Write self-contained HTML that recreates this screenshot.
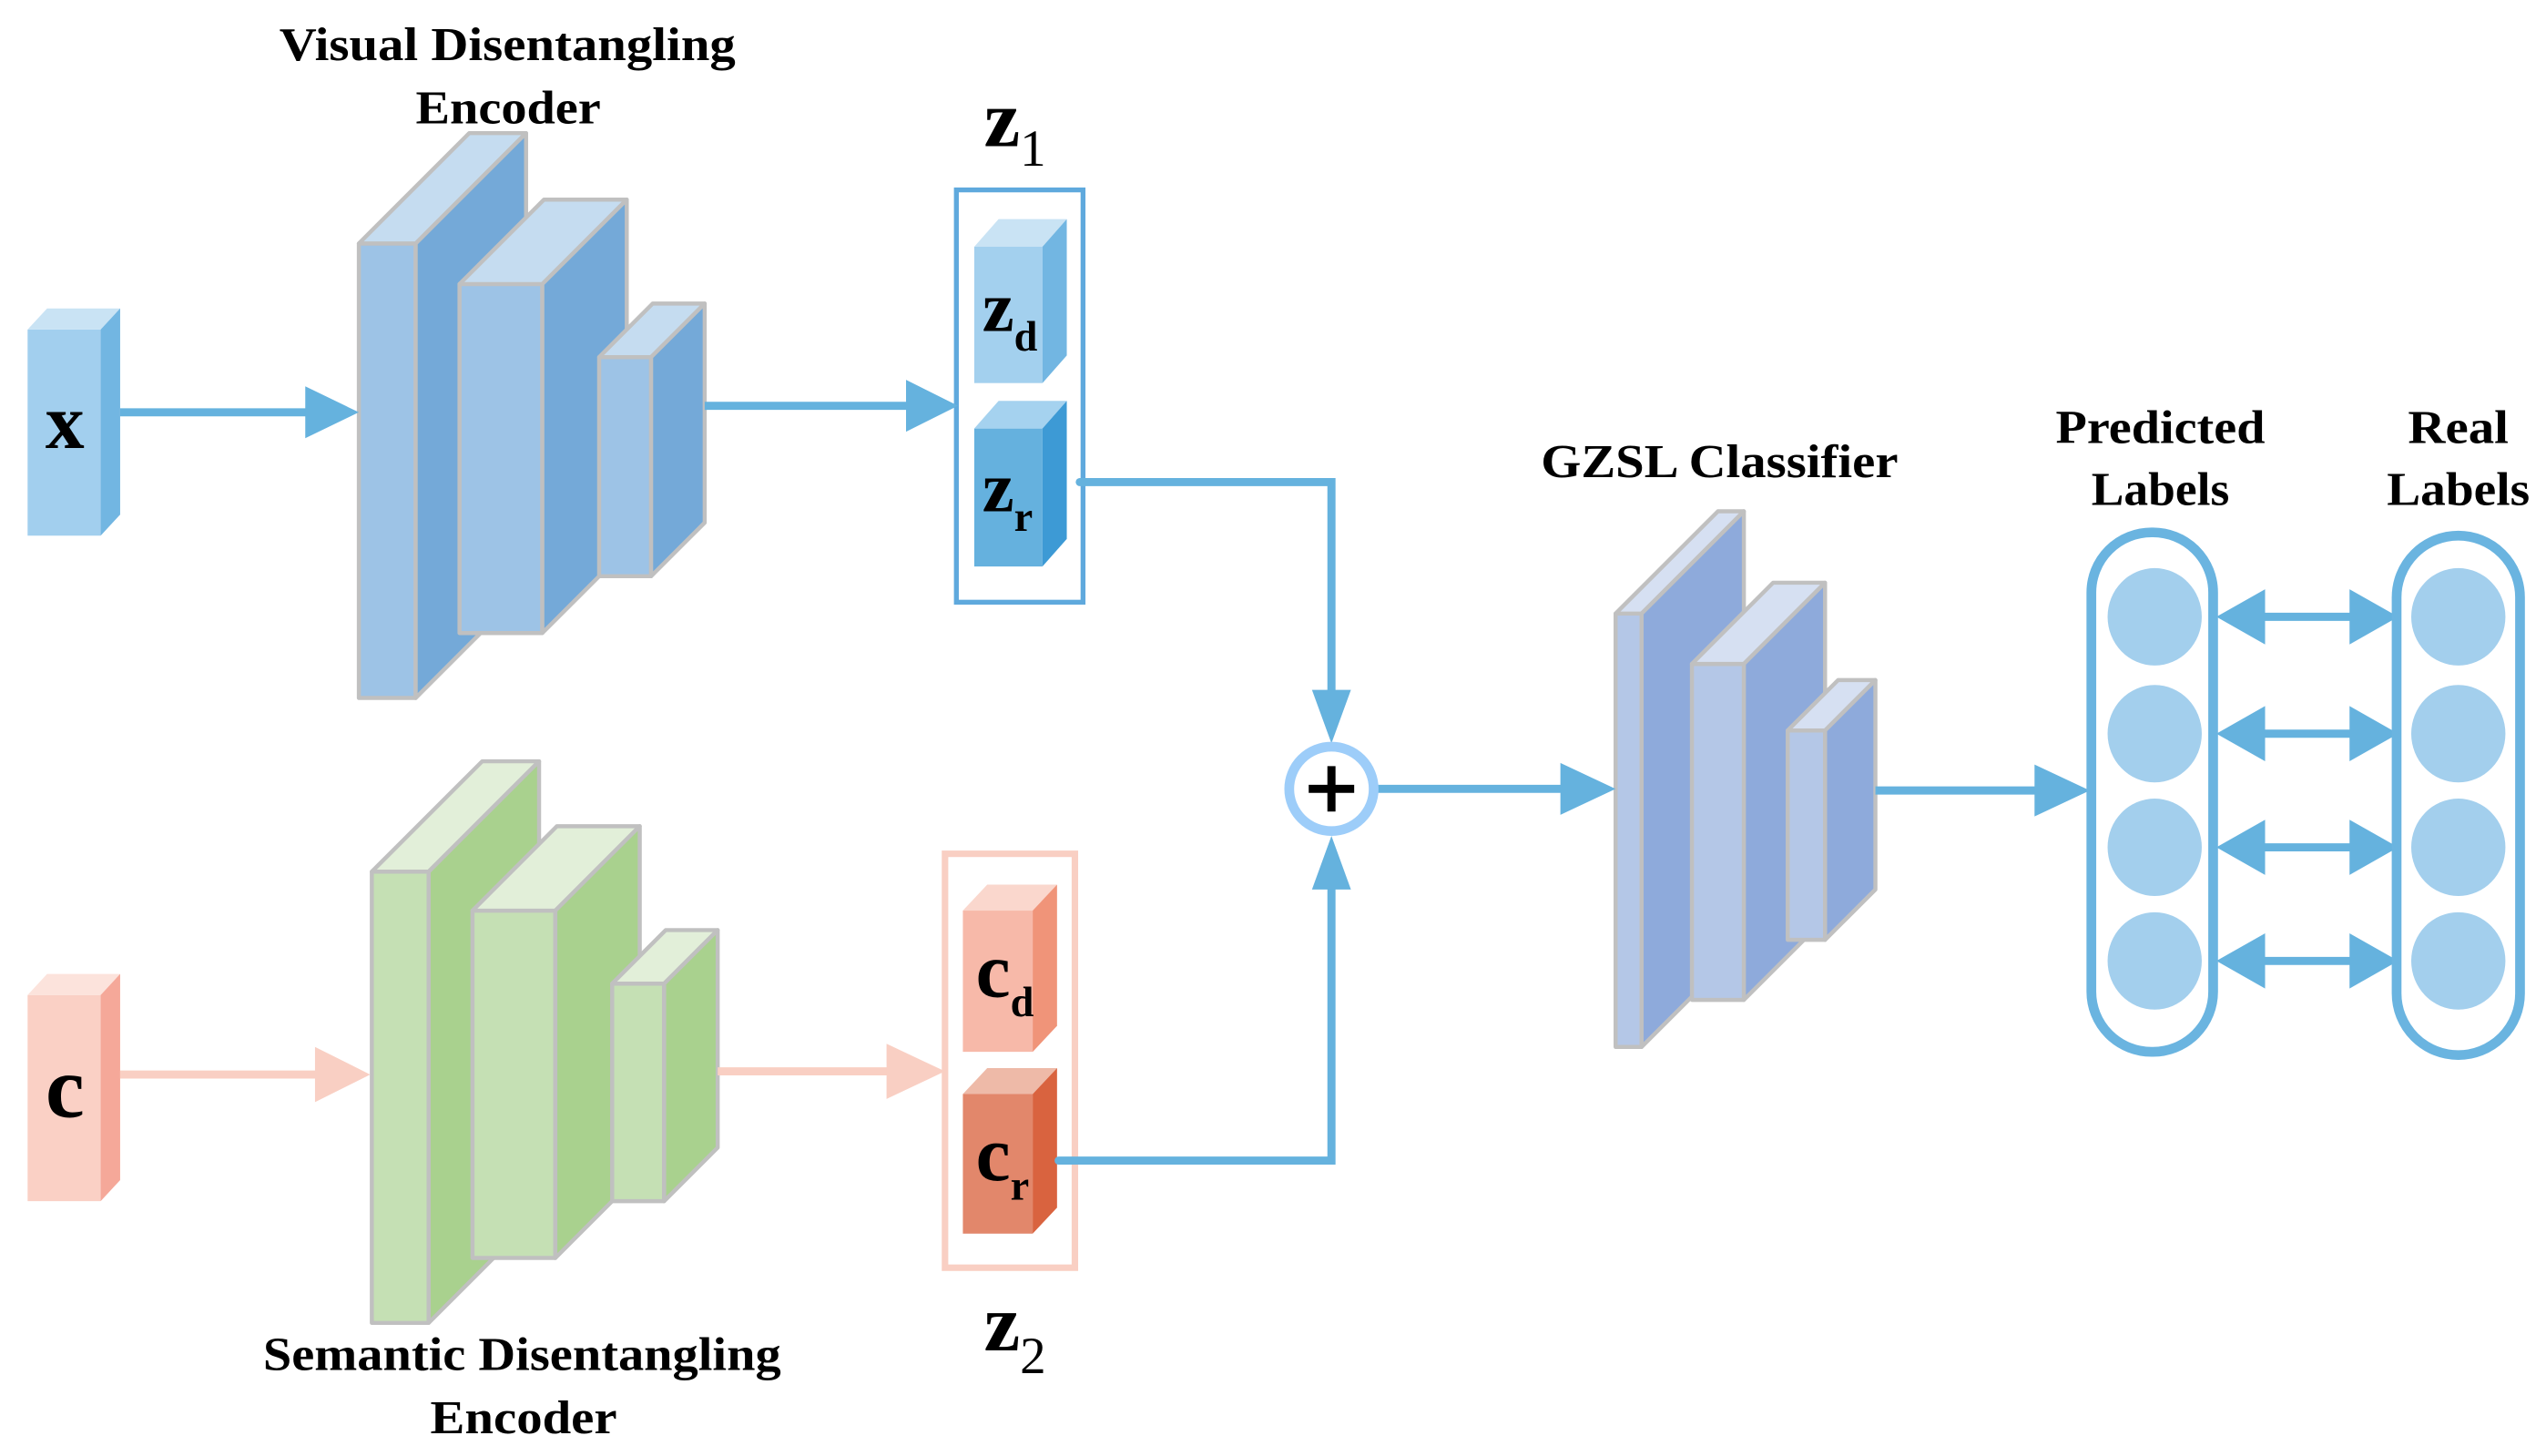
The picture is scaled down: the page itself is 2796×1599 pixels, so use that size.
<!DOCTYPE html>
<html><head><meta charset="utf-8"><style>html,body{margin:0;padding:0;background:#fff}svg{display:block}text{font-family:"Liberation Serif",serif;font-weight:bold;fill:#000}</style></head>
<body>
<svg width="2796" height="1599" viewBox="0 0 1568 897" preserveAspectRatio="none" xmlns="http://www.w3.org/2000/svg">
<g stroke="#c0c0c0" stroke-width="2.5" stroke-linejoin="round">
<rect x="221" y="150" width="35" height="280" fill="#9dc3e6"/>
<polygon points="221,150 289,82 324,82 256,150" fill="#c5dcf0"/>
<polygon points="256,150 324,82 324,362 256,430" fill="#74a9d8"/>
<rect x="283" y="175" width="51" height="215" fill="#9dc3e6"/>
<polygon points="283,175 335,123 386,123 334,175" fill="#c5dcf0"/>
<polygon points="334,175 386,123 386,338 334,390" fill="#74a9d8"/>
<rect x="369" y="220" width="32" height="135" fill="#9dc3e6"/>
<polygon points="369,220 402,187 434,187 401,220" fill="#c5dcf0"/>
<polygon points="401,220 434,187 434,322 401,355" fill="#74a9d8"/>
<rect x="229" y="537" width="35" height="278" fill="#c5e0b4"/>
<polygon points="229,537 297,469 332,469 264,537" fill="#e2efd9"/>
<polygon points="264,537 332,469 332,747 264,815" fill="#a9d18e"/>
<rect x="291" y="561" width="51" height="214" fill="#c5e0b4"/>
<polygon points="291,561 343,509 394,509 342,561" fill="#e2efd9"/>
<polygon points="342,561 394,509 394,723 342,775" fill="#a9d18e"/>
<rect x="377" y="606" width="32" height="134" fill="#c5e0b4"/>
<polygon points="377,606 410,573 442,573 409,606" fill="#e2efd9"/>
<polygon points="409,606 442,573 442,707 409,740" fill="#a9d18e"/>
<rect x="995" y="378" width="16" height="267" fill="#b4c7e7"/>
<polygon points="995,378 1058,315 1074,315 1011,378" fill="#d6e0f2"/>
<polygon points="1011,378 1074,315 1074,582 1011,645" fill="#8eaadb"/>
<rect x="1042" y="409" width="32" height="207" fill="#b4c7e7"/>
<polygon points="1042,409 1092,359 1124,359 1074,409" fill="#d6e0f2"/>
<polygon points="1074,409 1124,359 1124,566 1074,616" fill="#8eaadb"/>
<rect x="1101" y="450" width="23" height="129" fill="#b4c7e7"/>
<polygon points="1101,450 1132,419 1155,419 1124,450" fill="#d6e0f2"/>
<polygon points="1124,450 1155,419 1155,548 1124,579" fill="#8eaadb"/>
</g>
<rect x="17" y="203" width="45" height="127" fill="#a2cfee"/>
<polygon points="17,203 29,190 74,190 62,203" fill="#c9e3f4"/>
<polygon points="62,203 74,190 74,317 62,330" fill="#72b6e2"/>
<rect x="17" y="613" width="45" height="127" fill="#fad0c5"/>
<polygon points="17,613 29,600 74,600 62,613" fill="#fce3dc"/>
<polygon points="62,613 74,600 74,727 62,740" fill="#f5a899"/>
<rect x="600" y="152" width="42" height="84" fill="#a3d0ee"/>
<polygon points="600,152 615,135 657,135 642,152" fill="#c9e3f4"/>
<polygon points="642,152 657,135 657,219 642,236" fill="#72b6e2"/>
<rect x="600" y="264" width="42" height="85" fill="#65b1de"/>
<polygon points="600,264 615,247 657,247 642,264" fill="#a5d2ef"/>
<polygon points="642,264 657,247 657,332 642,349" fill="#3d9ad5"/>
<rect x="593" y="561" width="43" height="87" fill="#f7b9a9"/>
<polygon points="593,561 608,545 651,545 636,561" fill="#fad7cd"/>
<polygon points="636,561 651,545 651,632 636,648" fill="#f09479"/>
<rect x="593" y="674" width="43" height="86" fill="#e2876b"/>
<polygon points="593,674 608,658 651,658 636,674" fill="#eebaa8"/>
<polygon points="636,674 651,658 651,744 636,760" fill="#d9633f"/>
<rect x="589" y="117" width="78" height="254" fill="none" stroke="#5fa9dd" stroke-width="3"/>
<rect x="582" y="526" width="80" height="255" fill="none" stroke="#f9cfc3" stroke-width="4"/>
<g stroke="#65b2de" stroke-width="5" fill="none">
<line x1="74" y1="254" x2="192" y2="254"/>
<line x1="434" y1="250" x2="562" y2="250"/>
<polyline points="665,297 820,297 820,428" stroke-linecap="round"/>
<polyline points="652,715 820,715 820,545" stroke-linecap="round"/>
<line x1="848" y1="486" x2="965" y2="486"/>
<line x1="1155" y1="487" x2="1258" y2="487"/>
<line x1="1380" y1="380" x2="1460" y2="380"/>
<line x1="1380" y1="452" x2="1460" y2="452"/>
<line x1="1380" y1="522" x2="1460" y2="522"/>
<line x1="1380" y1="592" x2="1460" y2="592"/>
</g>
<g fill="#65b2de">
<polygon points="188,238 221,254 188,270"/>
<polygon points="558,234 590,250 558,266"/>
<polygon points="808,425 820,458 832,425"/>
<polygon points="808,548 820,515 832,548"/>
<polygon points="961,470 995,486 961,502"/>
<polygon points="1253,471 1287,487 1253,503"/>
<polygon points="1365,380 1395,363 1395,397"/><polygon points="1477,380 1447,363 1447,397"/>
<polygon points="1365,452 1395,435 1395,469"/><polygon points="1477,452 1447,435 1447,469"/>
<polygon points="1365,522 1395,505 1395,539"/><polygon points="1477,522 1447,505 1447,539"/>
<polygon points="1365,592 1395,575 1395,609"/><polygon points="1477,592 1447,575 1447,609"/>
</g>
<g stroke="#f9cfc3" stroke-width="5"><line x1="74" y1="662" x2="198" y2="662"/><line x1="442" y1="660" x2="550" y2="660"/></g>
<g fill="#f9cfc3"><polygon points="194,645 228,662 194,679"/><polygon points="546,643 582,660 546,677"/></g>
<circle cx="820" cy="486" r="26" fill="#fff" stroke="#9dcdf9" stroke-width="6"/>
<g stroke="#000" stroke-width="5"><line x1="806" y1="486" x2="834" y2="486"/><line x1="820" y1="472" x2="820" y2="500"/></g>
<rect x="1288" y="328" width="75" height="320" rx="37" fill="none" stroke="#6ab4e0" stroke-width="6"/>
<rect x="1476" y="330" width="76" height="320" rx="38" fill="none" stroke="#6ab4e0" stroke-width="6"/>
<g fill="#a3cfed">
<ellipse cx="1327" cy="380" rx="29" ry="30"/><ellipse cx="1327" cy="452" rx="29" ry="30"/><ellipse cx="1327" cy="522" rx="29" ry="30"/><ellipse cx="1327" cy="592" rx="29" ry="30"/>
<ellipse cx="1514" cy="380" rx="29" ry="30"/><ellipse cx="1514" cy="452" rx="29" ry="30"/><ellipse cx="1514" cy="522" rx="29" ry="30"/><ellipse cx="1514" cy="592" rx="29" ry="30"/>
</g>
<g font-size="29" lengthAdjust="spacingAndGlyphs">
<text x="172" y="37" textLength="281" lengthAdjust="spacingAndGlyphs">Visual Disentangling</text>
<text x="256" y="76" textLength="114" lengthAdjust="spacingAndGlyphs">Encoder</text>
<text x="162" y="844" textLength="319" lengthAdjust="spacingAndGlyphs">Semantic Disentangling</text>
<text x="265" y="883" textLength="115" lengthAdjust="spacingAndGlyphs">Encoder</text>
<text x="949" y="294" textLength="220" lengthAdjust="spacingAndGlyphs">GZSL Classifier</text>
<text x="1266" y="273" textLength="129" lengthAdjust="spacingAndGlyphs">Predicted</text>
<text x="1288" y="311" textLength="85" lengthAdjust="spacingAndGlyphs">Labels</text>
<text x="1483" y="273" textLength="62" lengthAdjust="spacingAndGlyphs">Real</text>
<text x="1470" y="311" textLength="88" lengthAdjust="spacingAndGlyphs">Labels</text>
</g>
<text x="40" y="276" font-size="48" text-anchor="middle">x</text>
<text x="40" y="688" font-size="54" text-anchor="middle">c</text>
<text x="606" y="90" font-size="50">z<tspan font-size="32" font-weight="normal" dy="12">1</tspan></text>
<text x="606" y="832" font-size="50">z<tspan font-size="32" font-weight="normal" dy="14">2</tspan></text>
<text x="605" y="204" font-size="44">z<tspan font-size="26" dy="12">d</tspan></text>
<text x="605" y="315" font-size="44">z<tspan font-size="26" dy="12">r</tspan></text>
<text x="601" y="614" font-size="48">c<tspan font-size="26" dy="12">d</tspan></text>
<text x="601" y="727" font-size="48">c<tspan font-size="26" dy="12">r</tspan></text>
</svg>
</body></html>
